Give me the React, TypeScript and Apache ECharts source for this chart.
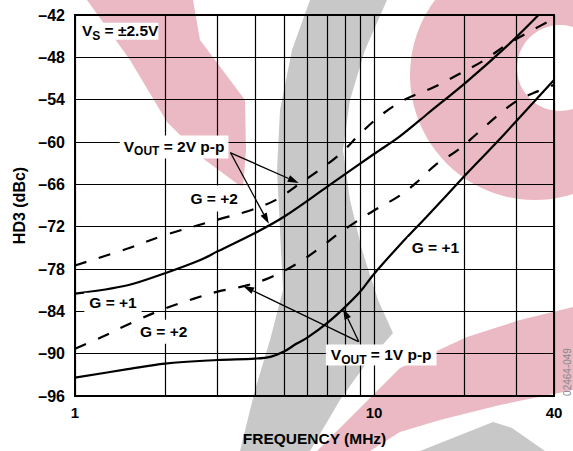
import React, { useEffect, useRef } from 'react';
import * as echarts from 'echarts';

const FONT = 'Arial, "Liberation Sans", Helvetica, sans-serif';

// Frequency grid (MHz) and labelled ticks
const gridFreqs = [1, 2, 3, 4, 5, 6, 7, 8, 9, 10, 20, 30, 40];
const labelFreqs = [1, 10, 40];

// G = +1, VOUT = 2V p-p (solid)
const g1v2F = [1, 1.5, 2, 2.6, 3, 4, 5, 7, 10, 12.2, 15, 20.5, 28, 35.5];
const g1v2Db = [-81.5, -80.3, -78.6, -76.8, -75.5, -72.9, -70.6, -66.3, -61.7, -59.2, -56.1, -51.4, -46.3, -42];

// G = +2, VOUT = 2V p-p (dashed)
const g2v2F = [1, 1.5, 2, 3, 3.85, 4.7, 5.6, 6.7, 7.8, 9, 10.7, 12.8, 15.9, 19.2, 23.4, 27.8, 34, 40];
const g2v2Db = [-77.5, -75.1, -73.2, -71.0, -69.7, -68.2, -66.0, -63.7, -61.5, -58.8, -56.0, -53.9, -52.2, -50.4, -48.4, -46.2, -44.1, -42.5];

// G = +1, VOUT = 1V p-p (solid)
const g1v1F = [1, 1.5, 2, 3, 4, 4.5, 5, 5.5, 6, 7, 8, 9, 10, 12.2, 15, 20, 25, 30, 40];
const g1v1Db = [-93.4, -92.2, -91.4, -90.9, -90.7, -90.45, -89.7, -88.6, -87.7, -85.6, -83.4, -81.2, -78.7, -74.6, -70.6, -64.9, -60.6, -57.0, -51.2];

// G = +2, VOUT = 1V p-p (dashed)
const g2v1F = [1, 1.25, 1.55, 2, 2.5, 3, 3.7, 4.5, 5.5, 6.5, 7.6, 8.5, 10, 12.2, 14, 16, 19, 22, 26, 30, 34, 40];
const g2v1Db = [-89.3, -87.5, -85.6, -83.6, -82.2, -81.2, -80.4, -79.2, -77.3, -75.2, -73.0, -71.6, -69.7, -67.6, -65.6, -63.3, -61.2, -58.9, -56.2, -54.2, -53.1, -51.9];

const lg = (f: number) => Math.log10(f);
const toData = (F: number[], D: number[]) => F.map((f, i) => [lg(f), D[i]]);

export default function App() {
  const ref = useRef<HTMLDivElement>(null);
  useEffect(() => {
    const chart = echarts.init(ref.current!, null, { renderer: 'svg' });
    const axisText = { fontFamily: FONT, fontWeight: 'bold', fontSize: 15, color: '#000' };
    const lineSeries = (name: string, F: number[], D: number[], dashed: boolean) => ({
      name,
      type: 'line',
      data: toData(F, D),
      showSymbol: false,
      smooth: 0.35,
      z: 5,
      lineStyle: { color: '#000', width: 2.2, type: dashed ? [12, 13] : 'solid' },
    });
    chart.setOption({
      animation: false,
      backgroundColor: '#fff',
      textStyle: { fontFamily: FONT },
      grid: { left: 75, right: 19, top: 15, bottom: 53, show: true, borderColor: '#000', borderWidth: 2 },
      xAxis: {
        type: 'value',
        min: 0,
        max: lg(40),
        interval: 1,
        name: 'FREQUENCY (MHz)',
        nameLocation: 'middle',
        nameGap: 34,
        nameTextStyle: { ...axisText, fontSize: 15.5 },
        axisLine: { show: true, lineStyle: { color: '#000', width: 2 } },
        axisTick: { show: false, customValues: gridFreqs.map(lg) },
        axisLabel: {
          ...axisText,
          margin: 9,
          customValues: labelFreqs.map(lg),
          showMaxLabel: true,
          formatter: (v: number) => String(Math.round(Math.pow(10, v))),
        },
        splitLine: { show: true, lineStyle: { color: '#000', width: 1.2 } },
      },
      yAxis: {
        type: 'value',
        min: -96,
        max: -42,
        interval: 6,
        name: 'HD3 (dBc)',
        nameLocation: 'middle',
        nameGap: 48,
        nameTextStyle: { ...axisText, fontSize: 16 },
        axisLine: { show: true, lineStyle: { color: '#000', width: 2 } },
        axisTick: { show: false },
        axisLabel: {
          ...axisText,
          fontSize: 16,
          margin: 10,
          formatter: (v: number) => (v < 0 ? '\u2013' + Math.abs(v) : String(v)),
        },
        splitLine: { show: true, lineStyle: { color: '#000', width: 1.2 } },
      },
      series: [
        lineSeries('G=+1 2V', g1v2F, g1v2Db, false),
        lineSeries('G=+2 2V', g2v2F, g2v2Db, true),
        lineSeries('G=+1 1V', g1v1F, g1v1Db, false),
        lineSeries('G=+2 1V', g2v1F, g2v1Db, true),
      ],
    });

    const px = (f: number, db: number) => chart.convertToPixel({ gridIndex: 0 }, [lg(f), db]) as number[];
    const PINK = '#EBB9C3';
    const GRAY = '#C8C8C8';
    const wm: any[] = [
      { type: 'circle', z: -5, shape: { cx: 535, cy: 75, r: 125 }, style: { fill: PINK } },
      { type: 'circle', z: -4, shape: { cx: 560, cy: 68, r: 43 }, style: { fill: '#fff' } },
      { type: 'polygon', z: -5, shape: { points: [[87, 0], [193, 0], [200, 40], [245, 100], [246, 150], [243, 188], [205, 160], [167, 122], [130, 60]] }, style: { fill: PINK } },
      { type: 'polygon', z: -5, shape: { points: [[317, 451], [350, 418], [400, 368], [467, 337], [520, 320], [573, 307], [573, 390], [500, 405], [440, 420], [400, 432], [370, 451]] }, style: { fill: PINK } },
      { type: 'polygon', z: -5, shape: { points: [[310, 0], [292, 50], [280, 110], [277, 170], [280, 230], [283, 290], [270, 340], [255, 390], [240, 451], [310, 451], [340, 400], [365, 365], [393, 333], [378, 300], [362, 250], [350, 200], [343, 150], [350, 100], [365, 50], [387, 0]] }, style: { fill: GRAY } },
      { type: 'polygon', z: -5, shape: { points: [[420, 451], [493, 422], [512, 428], [545, 451]] }, style: { fill: GRAY } },
    ];

    const rich = {
      n: { fontSize: 15.5, fontWeight: 'bold', fontFamily: FONT, fill: '#000', lineHeight: 17, verticalAlign: 'top' },
      s: { fontSize: 12, fontWeight: 'bold', fontFamily: FONT, fill: '#000', lineHeight: 13, verticalAlign: 'top', padding: [7, 0, 0, 0] },
    };
    const label = (text: string, f: number, db: number, pad: number[], align = 'center', isRich = false) => {
      const [x, y] = px(f, db);
      return {
        type: 'text',
        z: 50,
        x,
        y,
        style: {
          text,
          fill: '#000',
          fontSize: 15.5,
          fontWeight: 'bold',
          fontFamily: FONT,
          align,
          verticalAlign: 'middle',
          backgroundColor: '#fff',
          padding: pad,
          ...(isRich ? { rich } : {}),
        },
      };
    };
    const arrow = (f1: number, d1: number, f2: number, d2: number) => {
      const [x1, y1] = px(f1, d1);
      const [x2, y2] = px(f2, d2);
      const dx = x2 - x1, dy = y2 - y1;
      const L = Math.hypot(dx, dy);
      const ux = dx / L, uy = dy / L;
      const hl = 11, hw = 3.5;
      const bx = x2 - ux * hl, by = y2 - uy * hl;
      return [
        { type: 'line', z: 51, shape: { x1, y1, x2: bx, y2: by }, style: { stroke: '#000', lineWidth: 1.3 } },
        { type: 'polygon', z: 51, shape: { points: [[x2, y2], [bx - uy * hw, by + ux * hw], [bx + uy * hw, by - ux * hw]] }, style: { fill: '#000' } },
      ];
    };
    const ann: any[] = [
      label('{n|V}{s|S}{n| = \u00b12.5V}', 1.055, -44.3, [0, 0], 'left', true),
      label('{n|V}{s|OUT}{n| = 2V p-p}', 2.145, -60.7, [3, 4, 3, 4], 'center', true),
      label('G = +2', 2.92, -68.0, [5, 5, 5, 5]),
      label('G = +1', 1.34, -82.8, [2, 5, 2, 5]),
      label('G = +2', 1.98, -86.9, [4, 5, 4, 5]),
      label('G = +1', 16.05, -74.9, [2, 4, 2, 4]),
      label('{n|V}{s|OUT}{n| = 1V p-p}', 10.57, -90.2, [2, 5, 2, 5], 'center', true),
      ...arrow(3.3, -61.5, 5.6, -65.8),
      ...arrow(3.32, -61.6, 4.45, -71.6),
      ...arrow(8.87, -88.3, 3.65, -80.4),
      ...arrow(8.9, -88.3, 7.88, -83.6),
      {
        type: 'text',
        z: 50,
        x: 567,
        y: 372,
        rotation: Math.PI / 2,
        style: { text: '02464-049', fill: '#888', fontSize: 10, fontFamily: FONT, align: 'center', verticalAlign: 'middle' },
      },
    ];
    chart.setOption({ graphic: [...wm, ...ann] });
    return () => chart.dispose();
  }, []);
  return <div ref={ref} style={{ position: 'fixed', left: 0, top: 0, width: 573, height: 451 }} />;
}
